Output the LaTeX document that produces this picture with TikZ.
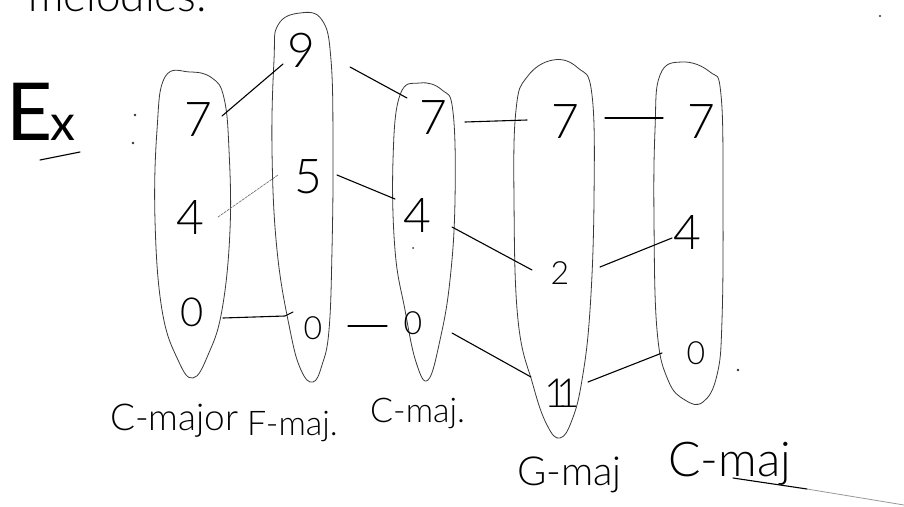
\documentclass[tikz,border=0pt]{standalone}
\usepackage{fontspec}
\setmainfont{Lato}[UprightFont={* Light}]
\newfontfamily\heavyink{Lato}
\usetikzlibrary{calc}

\tikzset{
  ink/.style={line width=1.1pt, black, line cap=round},
  faintink/.style={line width=0.7pt, black!55, dash pattern=on 2.5pt off 1.2pt, line cap=round},
  loopline/.style={line width=0.8pt, black!78, line join=round},
  digit/.style={inner sep=0pt, font=\fontsize{48}{48}\selectfont},
  digitmid/.style={inner sep=0pt, font=\fontsize{40}{40}\selectfont},
  digitsm/.style={inner sep=0pt, font=\fontsize{32}{32}\selectfont},
  caption/.style={inner sep=0pt, anchor=base west, font=\fontsize{34}{34}\selectfont},
  speck/.style={fill=black!80, draw=none},
}

\begin{document}
\begin{tikzpicture}[x=1pt,y=-1pt]
  \useasboundingbox (0,0) rectangle (904,506);
  \fill[white] (0,0) rectangle (904,506);
  \clip (0,0) rectangle (904,506);

  % heading line, running off the top edge
  \node[caption, font=\fontsize{44}{44}\selectfont] (head) at (28,12) {melodies:};

  % "Ex :" with its underline
  \node[inner sep=0pt, anchor=base west] (ex) at (6,140)
    {\heavyink\fontsize{80}{80}\selectfont E\kern-0.02em\fontsize{50}{50}\selectfont x};
  \coordinate (exu1) at (40,160);
  \coordinate (exu2) at (80,152);
  \draw[ink] (exu1) -- (exu2);
  \fill[speck] (135,115) circle (1.3);
  \fill[speck] (133,143) circle (1.3);

  % the five chord groups, drawn as tapered loops
  \draw[loopline] plot[smooth cycle, tension=0.7] coordinates {
    (165,77) (190,72) (212,78) (224,98) (229,150) (230,230) (222,310)
    (208,355) (193,378) (178,360) (162,310) (155,220) (157,130)};
  \draw[loopline] plot[smooth cycle, tension=0.7] coordinates {
    (278,25) (300,13) (322,20) (331,60) (333,150) (332,250) (329,330)
    (322,365) (313,382) (301,370) (290,330) (277,250) (272,150) (274,60)};
  \draw[loopline] plot[smooth cycle, tension=0.7] coordinates {
    (400,95) (420,83) (442,90) (453,112) (455,200) (450,280) (440,340)
    (428,380) (416,362) (405,310) (395,250) (393,160)};
  \draw[loopline] plot[smooth cycle, tension=0.7] coordinates {
    (527,77) (553,60) (578,68) (592,95) (594,200) (590,310) (582,380)
    (572,420) (560,438) (547,425) (533,385) (518,320) (514,200) (516,110)};
  \draw[loopline] plot[smooth cycle, tension=0.7] coordinates {
    (660,75) (682,62) (710,72) (721,95) (723,200) (722,320) (717,375)
    (703,402) (685,400) (668,380) (657,330) (654,220) (655,130)};

  % pitch classes in each chord
  \node[digit]    (c1a) at (198,120) {7};
  \node[digit]    (c1b) at (190,217) {4};
  \node[digitmid] (c1c) at (192,312) {0};

  \node[digit]    (f9)  at (301,50)  {9};
  \node[digit]    (f5)  at (308,177) {5};
  \node[digitsm]  (f0)  at (313,328) {0};

  \node[digit]    (c3a) at (433,118) {7};
  \node[digit]    (c3b) at (417,215) {4};
  \node[digitsm]  (c3c) at (413,323) {0};

  \node[digit]    (g7)  at (565,122) {7};
  \node[digitsm]  (g2)  at (560,273) {2};
  \node[digitmid] (g11) at (562,393) {1\kern-0.3em 1};

  \node[digit]    (c5a) at (701,122) {7};
  \node[digit]    (c5b) at (687,232) {4};
  \node[digitsm]  (c5c) at (696,353) {0};

  % voice leading between neighbouring chords
  \draw[ink] ($(c1a)+(24,-4)$) -- ($(f9)+(-18,14)$);
  \draw[faintink] ($(c1b)+(28,0)$) -- ($(f5)+(-30,-2)$);
  \draw[ink] ($(c1c)+(31,6)$) -- ($(f0)+(-28,-12)$) -- ($(f0)+(-20,-16)$);

  \draw[ink] ($(f9)+(49,17)$) -- ($(c3a)+(-26,-20)$);
  \draw[ink] ($(f5)+(29,-2)$) -- ($(c3b)+(-22,-16)$);
  \draw[ink] ($(f0)+(35,-2)$) -- ($(c3c)+(-26,3)$);

  \draw[ink] ($(c3a)+(32,4)$) -- ($(g7)+(-38,-2)$);
  \draw[ink] ($(c3b)+(35,12)$) -- ($(g2)+(-28,-3)$);
  \draw[ink] ($(c3c)+(39,10)$) -- ($(g11)+(-31,-16)$);

  \draw[ink] ($(g7)+(40,-4)$) -- ($(c5a)+(-38,-4)$);
  \draw[ink] ($(g2)+(40,-6)$) -- ($(c5b)+(-15,6)$);
  \draw[ink] ($(g11)+(26,-11)$) -- ($(c5c)+(-34,0)$);

  % chord names
  \node[caption, font=\fontsize{37}{37}\selectfont] (n1) at (110,430) {C-major};
  \node[caption] (n2) at (247,435) {F-maj.};
  \node[caption] (n3) at (370,422) {C-maj.};
  \node[caption, font=\fontsize{40}{40}\selectfont] (n4) at (517,485) {G-maj};
  \node[caption, font=\fontsize{48}{48}\selectfont] (n5) at (668,476) {C-maj};
  \coordinate (ul1) at (733,478);
  \coordinate (ul2) at (807,489);
  \coordinate (ul3) at (904,505);
  \draw[ink] (ul1) -- (ul2);
  \draw[line width=0.8pt, black!40] (ul2) -- (ul3);

  % stray pencil specks
  \fill[speck] (880,16) circle (1.2);
  \fill[speck] (738,370) circle (1.3);
  \fill[speck] (413,248) circle (1);
\end{tikzpicture}
\end{document}
